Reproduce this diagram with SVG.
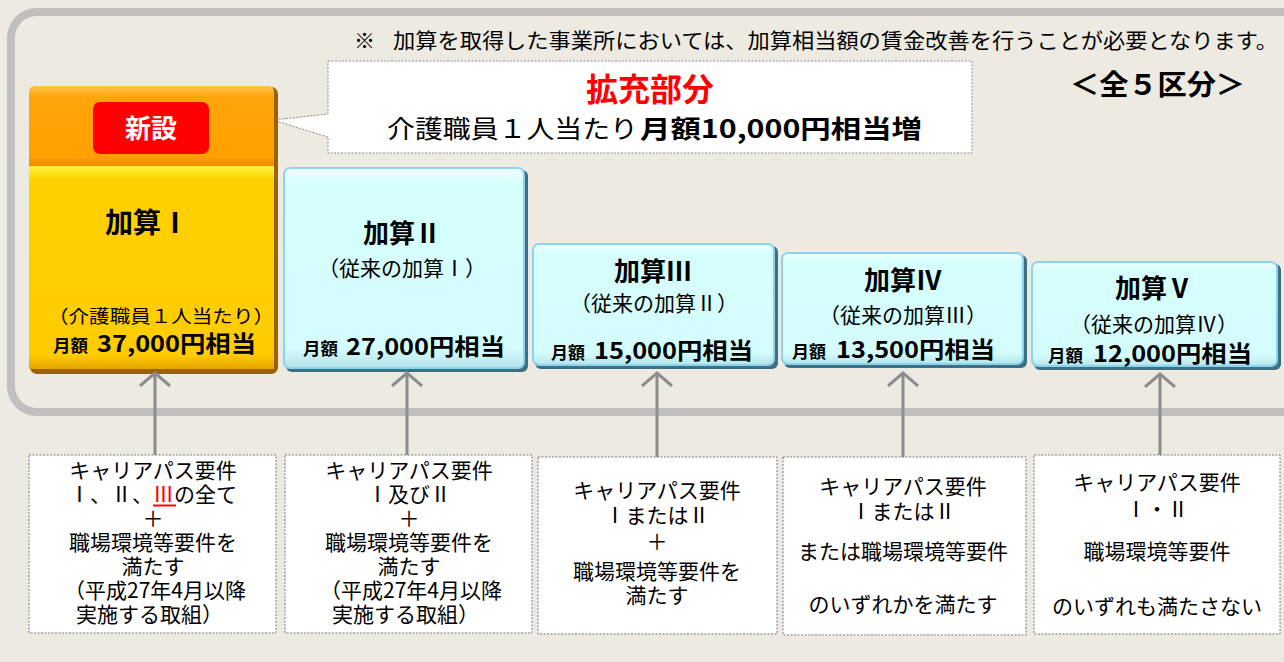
<svg xmlns="http://www.w3.org/2000/svg" width="1284" height="662" viewBox="0 0 1284 662">
<style>
text{font-family:"Noto Sans CJK JP","Noto Sans",sans-serif;fill:#000;}
.b{font-weight:bold;}
.req{font-size:21px;text-anchor:middle;}
.reqs{font-size:21px;}
.sub{font-size:21px;text-anchor:middle;}
.ttl{font-size:26px;font-weight:bold;text-anchor:middle;}
.mg{font-size:17px;font-weight:bold;}
.amt{font-size:23px;font-weight:bold;}
.rbox{fill:#fff;stroke:#777;stroke-width:1;stroke-dasharray:2 1.5;}
.conn{stroke:#8C8C8C;stroke-width:3;fill:none;}
.edge{fill:#3F6F82;}
.cy{fill:url(#gCyan);stroke:#8AD4F2;stroke-width:2;}
</style>
<defs>
<linearGradient id="gCyan" x1="0" y1="0" x2="0" y2="1">
<stop offset="0" stop-color="#F2FFFF"/>
<stop offset="0.08" stop-color="#D6FEFE"/>
<stop offset="0.9" stop-color="#D4FCFC"/>
<stop offset="1" stop-color="#B4E4EA"/>
</linearGradient>
<linearGradient id="gOrange" x1="0" y1="0" x2="0" y2="1">
<stop offset="0" stop-color="#FFC24A"/>
<stop offset="0.14" stop-color="#FFA50A"/>
<stop offset="0.88" stop-color="#FFA000"/>
<stop offset="1" stop-color="#E58A00"/>
</linearGradient>
<linearGradient id="gYellow" x1="0" y1="0" x2="0" y2="1">
<stop offset="0" stop-color="#FFF23A"/>
<stop offset="0.07" stop-color="#FFD000"/>
<stop offset="0.93" stop-color="#FFCC00"/>
<stop offset="1" stop-color="#E4A400"/>
</linearGradient>
<marker id="arr" markerUnits="userSpaceOnUse" viewBox="0 0 16 32" markerWidth="16" markerHeight="32" refX="14" refY="16" orient="auto">
<path d="M1,1 L14,16 L1,31" fill="none" stroke="#8C8C8C" stroke-width="3"/>
</marker>
</defs>

<rect x="0" y="0" width="1284" height="662" fill="#EDEAE1"/>
<rect x="11" y="12" width="1310" height="400" rx="26" fill="none" stroke="#BFBFBF" stroke-width="8"/>

<text x="354" y="48" style="font-size:21px">※</text>
<text x="393" y="48" style="font-size:21px" textLength="885" lengthAdjust="spacingAndGlyphs">加算を取得した事業所においては、加算相当額の賃金改善を行うことが必要となります。</text>
<text x="1070" y="95" class="b" style="font-size:28px" textLength="175" lengthAdjust="spacingAndGlyphs">＜全５区分＞</text>

<g id="callout">
<path d="M328,61 H972 V153 H328 V137 L273,120 L328,114 Z" fill="#fff" stroke="#888" stroke-width="1" stroke-dasharray="2 1.5"/>
<text x="650" y="101" class="b" style="font-size:32px;fill:#FF0000;text-anchor:middle">拡充部分</text>
<text x="387" y="138" style="font-size:25px" textLength="251" lengthAdjust="spacingAndGlyphs">介護職員１人当たり</text>
<text x="640" y="138" class="b" style="font-size:25px" textLength="282" lengthAdjust="spacingAndGlyphs">月額10,000円相当増</text>
</g>

<g id="kasan1">
<rect x="30" y="87" width="248" height="287" rx="7" fill="#9A6200"/>
<path d="M35,86 H268 Q274,86 274,92 V167 H29 V92 Q29,86 35,86 Z" fill="url(#gOrange)"/>
<rect x="29" y="166" width="245" height="203" fill="url(#gYellow)"/>
<rect x="93" y="102" width="116" height="52" rx="7" fill="#FF0000"/>
<text x="151" y="138" class="b" style="font-size:26px;fill:#fff;text-anchor:middle">新設</text>
<text x="147" y="233" class="b" style="font-size:28px;text-anchor:middle">加算Ⅰ</text>
<text x="48" y="323" style="font-size:18px" textLength="226" lengthAdjust="spacingAndGlyphs">（介護職員１人当たり）</text>
<text x="53" y="352" class="mg" textLength="35" lengthAdjust="spacingAndGlyphs">月額</text>
<text x="97" y="352" class="amt" textLength="159" lengthAdjust="spacingAndGlyphs">37,000円相当</text>
</g>

<g id="kasan2">
<rect x="286" y="170" width="242" height="202" rx="6" class="edge"/>
<rect x="284" y="168" width="240" height="200" rx="6" class="cy"/>
<text x="402" y="243" class="ttl">加算Ⅱ</text>
<text x="402" y="276" class="sub">（従来の加算Ⅰ）</text>
<text x="303" y="355" class="mg" textLength="35" lengthAdjust="spacingAndGlyphs">月額</text>
<text x="346" y="355" class="amt" textLength="159" lengthAdjust="spacingAndGlyphs">27,000円相当</text>
</g>

<g id="kasan3">
<rect x="535" y="246" width="243" height="123" rx="6" class="edge"/>
<rect x="533" y="244" width="241" height="121" rx="6" class="cy"/>
<text x="653" y="281" class="ttl">加算Ⅲ</text>
<text x="654" y="311" class="sub">（従来の加算Ⅱ）</text>
<text x="551" y="359" class="mg" textLength="34" lengthAdjust="spacingAndGlyphs">月額</text>
<text x="594" y="359" class="amt" textLength="159" lengthAdjust="spacingAndGlyphs">15,000円相当</text>
</g>

<g id="kasan4">
<rect x="784" y="255" width="243" height="113" rx="6" class="edge"/>
<rect x="782" y="253" width="241" height="111" rx="6" class="cy"/>
<text x="903" y="290" class="ttl">加算Ⅳ</text>
<text x="903" y="323" class="sub">（従来の加算Ⅲ）</text>
<text x="792" y="358" class="mg" textLength="34" lengthAdjust="spacingAndGlyphs">月額</text>
<text x="836" y="358" class="amt" textLength="159" lengthAdjust="spacingAndGlyphs">13,500円相当</text>
</g>

<g id="kasan5">
<rect x="1034" y="264" width="247" height="106" rx="6" class="edge"/>
<rect x="1032" y="262" width="245" height="104" rx="6" class="cy"/>
<text x="1154" y="298" class="ttl">加算Ⅴ</text>
<text x="1154" y="332" class="sub">（従来の加算Ⅳ）</text>
<text x="1048" y="362" class="mg" textLength="35" lengthAdjust="spacingAndGlyphs">月額</text>
<text x="1093" y="362" class="amt" textLength="159" lengthAdjust="spacingAndGlyphs">12,000円相当</text>
</g>

<g id="connectors">
<line x1="155" y1="455" x2="155" y2="373" class="conn" marker-end="url(#arr)"/>
<line x1="407" y1="455" x2="407" y2="373" class="conn" marker-end="url(#arr)"/>
<line x1="657" y1="457" x2="657" y2="373" class="conn" marker-end="url(#arr)"/>
<line x1="903" y1="457" x2="903" y2="373" class="conn" marker-end="url(#arr)"/>
<line x1="1160" y1="455" x2="1160" y2="374" class="conn" marker-end="url(#arr)"/>
</g>

<g id="req1">
<rect x="29" y="455" width="247" height="178" class="rbox"/>
<text x="153" y="478" class="req">キャリアパス要件</text>
<text x="153" y="502" class="req">Ⅰ、Ⅱ、<tspan style="fill:#FF0000">Ⅲ</tspan>の全て</text>
<line x1="153" y1="505.5" x2="176" y2="505.5" stroke="#FF0000" stroke-width="2"/>
<text x="153" y="526" class="req">＋</text>
<text x="153" y="550" class="req">職場環境等要件を</text>
<text x="153" y="574" class="req">満たす</text>
<text x="155" y="598" class="req">（平成27年4月以降</text>
<text x="76" y="622" class="reqs">実施する取組）</text>
</g>

<g id="req2">
<rect x="285" y="455" width="247" height="178" class="rbox"/>
<text x="409" y="478" class="req">キャリアパス要件</text>
<text x="409" y="502" class="req">Ⅰ及びⅡ</text>
<text x="409" y="526" class="req">＋</text>
<text x="409" y="550" class="req">職場環境等要件を</text>
<text x="409" y="574" class="req">満たす</text>
<text x="411" y="598" class="req">（平成27年4月以降</text>
<text x="332" y="622" class="reqs">実施する取組）</text>
</g>

<g id="req3">
<rect x="538" y="457" width="239" height="177" class="rbox"/>
<text x="657" y="498" class="req">キャリアパス要件</text>
<text x="657" y="523" class="req">ⅠまたはⅡ</text>
<text x="657" y="549" class="req">＋</text>
<text x="657" y="579" class="req">職場環境等要件を</text>
<text x="657" y="603" class="req">満たす</text>
</g>

<g id="req4">
<rect x="783" y="457" width="243" height="178" class="rbox"/>
<text x="903" y="494" class="req">キャリアパス要件</text>
<text x="903" y="519" class="req">ⅠまたはⅡ</text>
<text x="903" y="559" class="req">または職場環境等要件</text>
<text x="903" y="612" class="req">のいずれかを満たす</text>
</g>

<g id="req5">
<rect x="1034" y="455" width="246" height="179" class="rbox"/>
<text x="1157" y="490" class="req">キャリアパス要件</text>
<text x="1157" y="517" class="req">Ⅰ・Ⅱ</text>
<text x="1157" y="559" class="req">職場環境等要件</text>
<text x="1157" y="614" class="req">のいずれも満たさない</text>
</g>
</svg>
